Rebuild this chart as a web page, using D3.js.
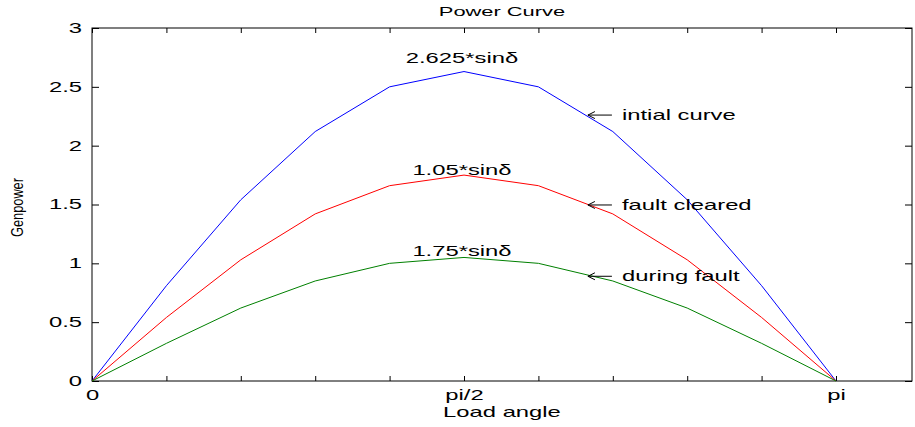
<!DOCTYPE html>
<html>
<head>
<meta charset="utf-8">
<script src="https://cdn.jsdelivr.net/npm/d3@7"></script>
<style>
  body { margin: 0; background: #fff; }
  text { font-family: "Liberation Sans", Arial, sans-serif; fill: #000; }
</style>
</head>
<body>
<div id="chart"></div>
<script>
// Data: load angle in steps of pi/10
const angles = [0, 0.3142, 0.6283, 0.9425, 1.2566, 1.5708, 1.8850, 2.1991, 2.5133, 2.8274, 3.1416];
const initialCurve = [0, 0.81, 1.54, 2.12, 2.50, 2.63, 2.50, 2.12, 1.54, 0.81, 0];
const faultCleared = [0, 0.54, 1.03, 1.42, 1.66, 1.75, 1.66, 1.42, 1.03, 0.54, 0];
const duringFault = [0, 0.32, 0.62, 0.85, 1.00, 1.05, 1.00, 0.85, 0.62, 0.32, 0];
const xTickValues = angles;
const xTickLabels = { 0: "0", 5: "pi/2", 10: "pi" };
const yTickValues = [0, 0.5, 1, 1.5, 2, 2.5, 3];

// annotation text, placed in data units
const series = [
  { name: "intial curve", values: initialCurve, color: "#0000ff", peakLabel: "2.625*sin\u03b4", peakY: 2.70, arrowY: 2.26 },
  { name: "fault cleared", values: faultCleared, color: "#ff0000", peakLabel: "1.05*sin\u03b4", peakY: 1.75, arrowY: 1.496 },
  { name: "during fault", values: duringFault, color: "#008000", peakLabel: "1.75*sin\u03b4", peakY: 1.06, arrowY: 0.89 }
];
const arrowX = 2.094, labelX = 2.238;

const W = 915, H = 427;
const margin = { top: 28, right: 3, bottom: 46, left: 92 };
const width = W - margin.left - margin.right;
const height = H - margin.top - margin.bottom;
const SX = 1.7; // text in the original is stretched wide

// stretch a text horizontally around its own x anchor
function stretch(sel, sx) {
  sel.each(function() {
    const t = d3.select(this);
    const X = +t.attr("x") || 0;
    t.attr("transform", `translate(${X * (1 - sx)},0) scale(${sx},1)`);
  });
}

const svg = d3.select("#chart").append("svg")
  .attr("width", W).attr("height", H);
const g = svg.append("g").attr("transform", `translate(${margin.left},${margin.top})`);

const x = d3.scaleLinear().domain([0, 3.4625]).range([0, width]);
const y = d3.scaleLinear().domain([0, 3]).range([height, 0]);

// frame
g.append("rect").attr("width", width).attr("height", height)
  .attr("fill", "none").attr("stroke", "#000").attr("stroke-width", 1);

// bottom axis
const xAxisBottom = g.append("g").attr("transform", `translate(0,${height})`)
  .call(d3.axisBottom(x).tickValues(xTickValues).tickSizeInner(-5).tickSizeOuter(0).tickPadding(9)
    .tickFormat((d, i) => xTickLabels[i] || ""));
xAxisBottom.select(".domain").remove();
xAxisBottom.selectAll("text").attr("font-size", 14).attr("font-family", "Liberation Sans, Arial, sans-serif")
  .call(stretch, SX);

// top ticks
const xAxisTop = g.append("g")
  .call(d3.axisTop(x).tickValues(xTickValues).tickSizeInner(-5).tickSizeOuter(0).tickFormat(""));
xAxisTop.select(".domain").remove();

// left axis
const yAxisLeft = g.append("g")
  .call(d3.axisLeft(y).tickValues(yTickValues).tickSizeInner(-7).tickSizeOuter(0).tickPadding(10)
    .tickFormat(d3.format("")));
yAxisLeft.select(".domain").remove();
yAxisLeft.selectAll("text").attr("font-size", 14).attr("font-family", "Liberation Sans, Arial, sans-serif")
  .call(stretch, SX);

// right ticks
const yAxisRight = g.append("g").attr("transform", `translate(${width},0)`)
  .call(d3.axisRight(y).tickValues(yTickValues).tickSizeInner(-7).tickSizeOuter(0).tickFormat(""));
yAxisRight.select(".domain").remove();

g.selectAll(".tick line").attr("stroke", "#000");

// lines
const line = d3.line().x((d, i) => x(angles[i])).y(d => y(d));
series.forEach(s => {
  g.append("path").datum(s.values)
    .attr("d", line)
    .attr("fill", "none")
    .attr("stroke", s.color)
    .attr("stroke-width", 1);
});

// peak labels
series.forEach(s => {
  g.append("text")
    .attr("x", x(angles[5]) - 2)
    .attr("y", y(s.peakY))
    .attr("text-anchor", "middle")
    .attr("font-size", 14)
    .text(s.peakLabel)
    .call(stretch, SX);
});

// arrow annotations
series.forEach(s => {
  const yy = y(s.arrowY);
  const x0 = x(arrowX);
  g.append("line").attr("x1", x0).attr("x2", x0 + 24).attr("y1", yy).attr("y2", yy)
    .attr("stroke", "#000").attr("stroke-width", 1);
  g.append("path")
    .attr("d", `M${x0 + 7},${yy - 3.5} L${x0},${yy} L${x0 + 7},${yy + 3.5}`)
    .attr("fill", "none").attr("stroke", "#000").attr("stroke-width", 1);
  g.append("text")
    .attr("x", x(labelX)).attr("y", yy + 5)
    .attr("font-size", 14)
    .text(s.name)
    .call(stretch, SX);
});

// title and axis labels
svg.append("text").attr("x", margin.left + width / 2).attr("y", 16)
  .attr("text-anchor", "middle").attr("font-size", 12.5).text("Power Curve")
  .call(stretch, 1.75);
svg.append("text").attr("x", margin.left + width / 2).attr("y", 417)
  .attr("text-anchor", "middle").attr("font-size", 14).text("Load angle")
  .call(stretch, SX);
svg.append("text")
  .attr("transform", `translate(23,${margin.top + height / 2 + 3}) rotate(-90) scale(0.8,1)`)
  .attr("text-anchor", "middle").style("font-size", "16px").text("Genpower");
</script>
</body>
</html>
